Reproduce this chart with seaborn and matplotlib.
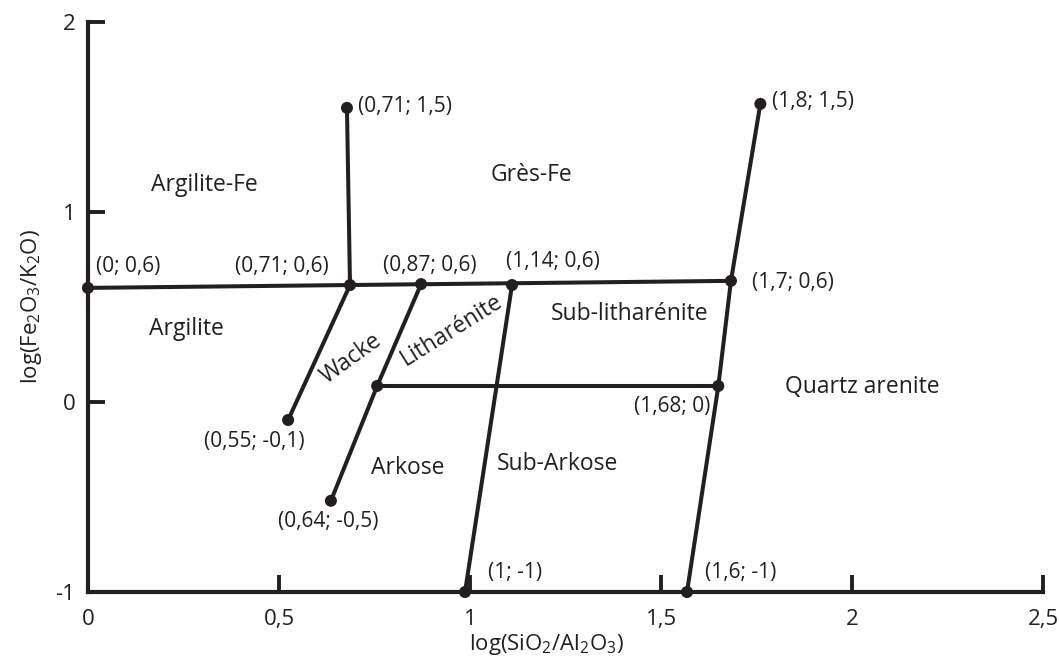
import numpy as np
import pandas as pd
import matplotlib
matplotlib.use("Agg")
import matplotlib.pyplot as plt
import seaborn as sns

# noeuds du diagramme (positions)
node_names = ["A", "B", "C", "D", "E", "F", "G", "H", "I", "J", "K", "L", "M"]
node_x = [0.0, 0.686, 0.872, 1.11, 1.683, 0.678, 1.76, 0.524, 0.636, 0.987, 1.568, 1.65, 0.757]
node_y = [0.60, 0.615, 0.62, 0.615, 0.637, 1.547, 1.568, -0.095, -0.52, -1.0, -1.0, 0.084, 0.084]

# segments (paires de noeuds)
seg_from = ["A", "B", "B", "C", "M", "M", "D", "G", "E", "L"]
seg_to   = ["E", "F", "H", "M", "I", "L", "J", "E", "L", "K"]

# points marqués
dot_names = ["A", "B", "C", "D", "E", "F", "G", "H", "I", "J", "K", "L", "M"]

# étiquettes des coordonnées
coord_text = ["(0,71; 1,5)", "(1,8; 1,5)", "(0; 0,6)", "(0,71; 0,6)", "(0,87; 0,6)",
              "(1,14; 0,6)", "(1,7; 0,6)", "(0,55; -0,1)", "(1,68; 0)", "(0,64; -0,5)",
              "(1; -1)", "(1,6; -1)"]
coord_x = [0.707, 1.79, 0.021, 0.385, 0.772, 1.094, 1.738, 0.304, 1.43, 0.497, 1.047, 1.615]
coord_y = [1.553, 1.58, 0.71, 0.71, 0.72, 0.74, 0.626, -0.21, -0.026, -0.63, -0.895, -0.895]

# noms des domaines
zone_text = ["Argilite-Fe", "Grès-Fe", "Argilite", "Sub-litharénite", "Wacke",
             "Litharénite", "Quartz arenite", "Arkose", "Sub-Arkose"]
zone_x = [0.304, 1.162, 0.259, 1.419, 0.69, 0.953, 2.026, 0.838, 1.228]
zone_y = [1.142, 1.195, 0.384, 0.463, 0.225, 0.379, 0.079, -0.347, -0.326]
zone_rot = [0, 0, 0, 0, 36, 32, 0, 0, 0]

xticks = [0, 0.5, 1, 1.5, 2, 2.5]
xtick_labels = ["0", "0,5", "1", "1,5", "2", "2,5"]
yticks = [-1, 0, 1, 2]
ytick_labels = ["-1", "0", "1", "2"]

sns.set_style("ticks")
plt.rcParams["font.family"] = ["Open Sans", "DejaVu Sans"]
plt.rcParams["mathtext.default"] = "regular"

ink = "#231f20"
nodes = pd.DataFrame({"x": node_x, "y": node_y}, index=node_names)
rows = []
for i, (a, b) in enumerate(zip(seg_from, seg_to)):
    rows.append({"seg": i, "x": nodes.loc[a, "x"], "y": nodes.loc[a, "y"]})
    rows.append({"seg": i, "x": nodes.loc[b, "x"], "y": nodes.loc[b, "y"]})
segs = pd.DataFrame(rows)
dots = nodes.loc[dot_names]

fig, ax = plt.subplots(figsize=(10.59, 6.6), dpi=100)
fig.subplots_adjust(left=0.083, right=0.985, bottom=0.103, top=0.967)

sns.lineplot(data=segs, x="x", y="y", units="seg", estimator=None, sort=False,
             color=ink, linewidth=2.9, ax=ax, legend=False)
sns.scatterplot(data=dots, x="x", y="y", color=ink, s=75, edgecolor="none",
                ax=ax, clip_on=False, zorder=5, legend=False)

for t, x, y in zip(coord_text, coord_x, coord_y):
    ax.text(x, y, t, fontsize=15, ha="left", va="center", color=ink)
for t, x, y, r in zip(zone_text, zone_x, zone_y, zone_rot):
    ax.text(x, y, t, fontsize=16.5, ha="center", va="center", rotation=r,
            rotation_mode="anchor", color=ink)

ax.set_xlim(0, 2.5)
ax.set_ylim(-1, 2)
ax.set_xticks(xticks, xtick_labels)
ax.set_yticks(yticks, ytick_labels)
ax.tick_params(direction="in", length=12, width=2.8, labelsize=16, colors=ink, pad=9)
ax.tick_params(axis="x", pad=12)
sns.despine(ax=ax)
for s in ["left", "bottom"]:
    ax.spines[s].set_linewidth(3)
    ax.spines[s].set_color(ink)
ax.set_xlabel(r"log(SiO$_2$/Al$_2$O$_3$)", fontsize=16, color=ink)
ax.set_ylabel(r"log(Fe$_2$O$_3$/K$_2$O)", fontsize=16, labelpad=8, color=ink)
ax.xaxis.set_label_coords(0.48, -0.07)

fig.savefig("out.png", dpi=100)
